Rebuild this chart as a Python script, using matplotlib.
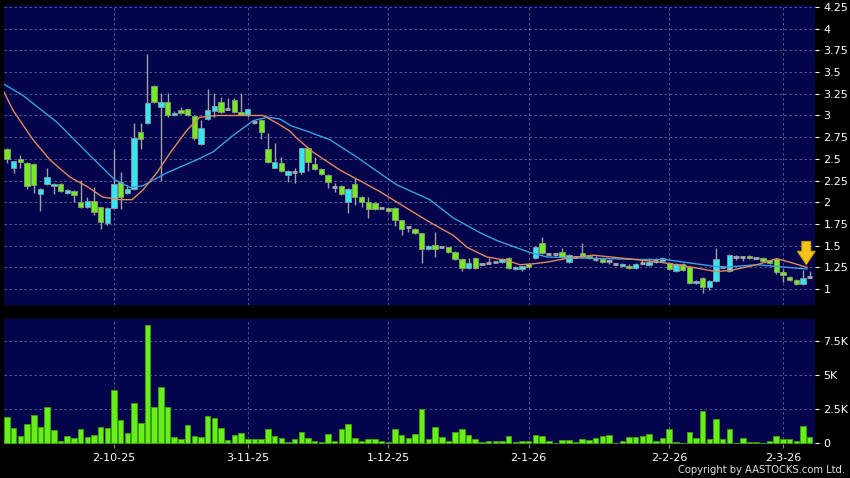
import matplotlib
matplotlib.use("Agg")
import matplotlib.pyplot as plt
import numpy as np

# ---------------------------------------------------------------
# Data
# ---------------------------------------------------------------
opens = [2.61, 2.40, 2.50, 2.45, 2.44, 2.10, 2.21, 2.19, 2.21, 2.11,
         2.13, 2.00, 1.94, 2.01, 1.94, 1.76, 1.93, 2.23, 2.11, 2.15,
         2.81, 2.91, 3.34, 3.10, 3.15, 3.00, 3.06, 3.07, 2.99, 2.67,
         2.96, 3.05, 3.15, 3.08, 3.18, 3.04, 3.00, 2.93, 2.95, 2.61,
         2.40, 2.45, 2.31, 2.35, 2.35, 2.62, 2.44, 2.38, 2.31, 2.17,
         2.19, 2.00, 2.21, 2.06, 2.00, 1.99, 1.93, 1.93, 1.93, 1.79,
         1.71, 1.69, 1.64, 1.46, 1.51, 1.48, 1.48, 1.43, 1.35, 1.24,
         1.36, 1.29, 1.30, 1.31, 1.31, 1.36, 1.23, 1.23, 1.29, 1.36,
         1.53, 1.40, 1.40, 1.43, 1.31, 1.37, 1.41, 1.38, 1.35, 1.35,
         1.32, 1.29, 1.26, 1.26, 1.24, 1.30, 1.28, 1.32, 1.32, 1.30,
         1.21, 1.29, 1.25, 1.07, 1.13, 1.02, 1.09, 1.25, 1.21, 1.37,
         1.37, 1.38, 1.36, 1.36, 1.33, 1.35, 1.20, 1.14, 1.10, 1.06,
         1.14]
highs = [2.63, 2.48, 2.54, 2.46, 2.45, 2.16, 2.39, 2.22, 2.22, 2.15,
         2.14, 2.26, 2.06, 2.18, 1.95, 1.94, 2.61, 2.35, 2.20, 2.91,
         2.91, 3.71, 3.35, 3.26, 3.26, 3.05, 3.10, 3.08, 3.00, 2.95,
         3.31, 3.26, 3.21, 3.20, 3.20, 3.26, 3.08, 2.95, 2.96, 2.80,
         2.68, 2.52, 2.37, 2.39, 2.63, 2.63, 2.52, 2.39, 2.32, 2.22,
         2.20, 2.16, 2.28, 2.07, 2.06, 2.00, 1.94, 1.94, 1.94, 1.80,
         1.72, 1.70, 1.65, 1.51, 1.66, 1.49, 1.49, 1.44, 1.36, 1.36,
         1.37, 1.30, 1.36, 1.32, 1.36, 1.37, 1.26, 1.27, 1.30, 1.50,
         1.60, 1.41, 1.41, 1.47, 1.40, 1.38, 1.53, 1.39, 1.38, 1.36,
         1.35, 1.30, 1.30, 1.29, 1.30, 1.33, 1.36, 1.36, 1.37, 1.31,
         1.30, 1.30, 1.26, 1.10, 1.14, 1.10, 1.47, 1.26, 1.40, 1.39,
         1.38, 1.39, 1.37, 1.37, 1.34, 1.36, 1.23, 1.15, 1.11, 1.22,
         1.21]
lows = [2.45, 2.34, 2.39, 2.15, 2.11, 1.90, 2.20, 2.10, 2.12, 2.10,
        2.00, 1.93, 1.93, 1.85, 1.69, 1.74, 1.92, 1.92, 2.10, 2.14,
        2.61, 2.90, 3.14, 2.25, 2.98, 2.99, 3.02, 2.99, 2.72, 2.66,
        2.95, 2.98, 3.03, 3.06, 3.03, 3.00, 2.98, 2.90, 2.73, 2.45,
        2.39, 2.35, 2.23, 2.22, 2.32, 2.36, 2.37, 2.31, 2.16, 2.12,
        2.08, 1.88, 1.97, 1.94, 1.82, 1.91, 1.92, 1.89, 1.73, 1.62,
        1.66, 1.63, 1.30, 1.45, 1.37, 1.47, 1.42, 1.34, 1.21, 1.23,
        1.23, 1.28, 1.29, 1.30, 1.30, 1.23, 1.22, 1.21, 1.24, 1.35,
        1.40, 1.39, 1.38, 1.36, 1.30, 1.36, 1.36, 1.35, 1.32, 1.30,
        1.29, 1.28, 1.25, 1.23, 1.23, 1.28, 1.27, 1.30, 1.31, 1.22,
        1.20, 1.21, 1.06, 1.06, 0.95, 0.99, 1.08, 1.24, 1.20, 1.33,
        1.32, 1.35, 1.35, 1.31, 1.29, 1.17, 1.08, 1.09, 1.05, 1.05,
        1.13]
closes = [2.50, 2.47, 2.46, 2.19, 2.20, 2.15, 2.29, 2.21, 2.13, 2.14,
          2.08, 1.94, 2.01, 1.89, 1.77, 1.93, 2.21, 2.06, 2.15, 2.74,
          2.73, 3.14, 3.15, 3.15, 3.00, 3.03, 3.03, 3.00, 2.74, 2.85,
          3.06, 3.11, 3.04, 3.08, 3.04, 3.00, 3.07, 2.93, 2.81, 2.46,
          2.46, 2.36, 2.36, 2.35, 2.62, 2.46, 2.38, 2.32, 2.23, 2.17,
          2.09, 2.15, 2.06, 2.00, 1.92, 1.92, 1.93, 1.90, 1.79, 1.69,
          1.71, 1.64, 1.46, 1.50, 1.46, 1.48, 1.43, 1.35, 1.24, 1.30,
          1.24, 1.29, 1.30, 1.31, 1.35, 1.24, 1.25, 1.26, 1.25, 1.48,
          1.41, 1.40, 1.40, 1.37, 1.39, 1.37, 1.37, 1.36, 1.35, 1.31,
          1.32, 1.29, 1.29, 1.24, 1.29, 1.30, 1.31, 1.32, 1.36, 1.23,
          1.29, 1.22, 1.07, 1.09, 1.02, 1.09, 1.35, 1.25, 1.39, 1.37,
          1.37, 1.36, 1.36, 1.32, 1.30, 1.20, 1.16, 1.10, 1.06, 1.13,
          1.14]
# volume in thousands of shares
volumes = [1.89, 1.10, 0.54, 1.42, 2.08, 1.15, 2.62, 0.98, 0.17, 0.49,
           0.32, 1.05, 0.44, 0.61, 1.18, 1.10, 3.87, 1.69, 0.71, 2.94,
           1.50, 8.68, 2.67, 4.12, 2.62, 0.44, 0.27, 1.35, 0.49, 0.42,
           1.99, 1.84, 1.10, 0.20, 0.59, 0.76, 0.27, 0.27, 0.27, 1.03,
           0.49, 0.39, 0.07, 0.29, 0.83, 0.34, 0.17, 0.07, 0.64, 0.15,
           1.03, 1.42, 0.37, 0.15, 0.29, 0.29, 0.12, 0.07, 1.03, 0.59,
           0.39, 0.66, 2.50, 0.29, 1.18, 0.44, 0.17, 0.83, 1.03, 0.61,
           0.25, 0.07, 0.12, 0.17, 0.17, 0.54, 0.07, 0.17, 0.17, 0.56,
           0.49, 0.12, 0.00, 0.22, 0.22, 0.07, 0.29, 0.22, 0.32, 0.49,
           0.61, 0.02, 0.17, 0.42, 0.42, 0.47, 0.66, 0.17, 0.37, 1.03,
           0.07, 0.02, 0.81, 0.37, 2.38, 0.25, 1.76, 0.29, 1.03, 0.00,
           0.34, 0.05, 0.07, 0.00, 0.12, 0.49, 0.29, 0.27, 0.17, 1.27,
           0.42]

# moving averages (sampled along the curves)
ma_short_x = [-0.45, 0.9, 3.9, 6.4, 9.4, 12, 14.3, 16.9, 18.7, 20.3, 22.4,
              24.4, 26.9, 28.8, 31.4, 38.3, 40.4, 42.3, 43.3, 45.7, 49.8,
              53.2, 55.8, 59.8, 63.2, 66.7, 68.8, 71.7, 74.7, 76.7, 78.6,
              80.7, 84.2, 87.6, 92.7, 97.6, 102.5, 106.1, 108.5, 112.1,
              115.1, 117, 119.6]
ma_short_y = [3.27, 3.06, 2.72, 2.49, 2.29, 2.18, 2.06, 2.03, 2.03, 2.14, 2.34,
              2.57, 2.83, 2.98, 3.00, 3.00, 2.91, 2.82, 2.74, 2.58, 2.37,
              2.23, 2.12, 1.93, 1.77, 1.62, 1.48, 1.37, 1.33, 1.28, 1.29,
              1.31, 1.36, 1.39, 1.35, 1.31, 1.25, 1.20, 1.22, 1.28,
              1.35, 1.31, 1.25]
ma_long_x = [-0.45, 2.4, 7.5, 12.4, 16.1, 18.4, 20.3, 23.9, 28.4, 30.8, 33.8,
             36.8, 38.9, 40.8, 42.5, 44.8, 48.3, 52.3, 56.2, 58.3, 63.2,
             66.7, 70.7, 73.2, 78.2, 80.7, 84.2, 89.8, 94.9, 98.4, 102.1,
             107, 112.1, 115.1, 119.6]
ma_long_y = [3.36, 3.23, 2.92, 2.54, 2.26, 2.17, 2.19, 2.34, 2.49, 2.58, 2.77,
             2.94, 2.98, 2.96, 2.88, 2.82, 2.72, 2.52, 2.31, 2.20, 2.03,
             1.82, 1.65, 1.56, 1.42, 1.37, 1.36, 1.35, 1.34, 1.34, 1.30,
             1.25, 1.28, 1.26, 1.23]

date_ticks = [16, 36, 57, 78, 99, 116]
date_labels = ["2-10-25", "3-11-25", "1-12-25", "2-1-26", "2-2-26", "2-3-26"]
price_ticks = [1, 1.25, 1.5, 1.75, 2, 2.25, 2.5, 2.75, 3, 3.25, 3.5, 3.75, 4, 4.25]
vol_ticks = [0, 2.5, 5, 7.5]
vol_labels = ["0", "2.5K", "5K", "7.5K"]

# ---------------------------------------------------------------
# Styling
# ---------------------------------------------------------------
BG = "#000000"
PANEL = "#04044c"
GRID = "#5b6496"
UP = "#33e6f2"
DOWN = "#72ec1c"
FLAT = "#a8a8a8"
WICK = "#a0a0a0"

W, H = 850, 478
fig = plt.figure(figsize=(W / 100, H / 100), dpi=100, facecolor=BG)

ax = fig.add_axes([4 / W, (H - 305) / H, 811 / W, 300 / H], facecolor=PANEL)
axv = fig.add_axes([4 / W, (H - 443.5) / H, 811 / W, 124.5 / H], facecolor=PANEL)

idx = np.arange(len(closes))
o = np.array(opens)
c = np.array(closes)
h = np.array(highs)
l = np.array(lows)

# wicks
ax.vlines(idx, l, h, color=WICK, lw=1.0, zorder=2)

# bodies
up = c > o
down = c < o
flat = c == o
body_w = 0.8
ax.bar(idx[up], (c - o)[up], bottom=o[up], width=body_w, color=UP,
       edgecolor="#8a9aa0", lw=0.6, zorder=3)
ax.bar(idx[down], (o - c)[down], bottom=c[down], width=body_w, color=DOWN,
       edgecolor="#8a9a80", lw=0.6, zorder=3)
ax.hlines(c[flat], idx[flat] - body_w / 2, idx[flat] + body_w / 2,
          color=FLAT, lw=2.0, zorder=3)

# moving averages
ax.plot(ma_long_x, ma_long_y, color="#3b9fe0", lw=1.0, zorder=4)
ax.plot(ma_short_x, ma_short_y, color="#e08a5a", lw=1.0, zorder=4)

# marker arrow above the last session
last = len(closes) - 1
ax.annotate("", xy=(last - 0.5, ma_long_y[-1] + 0.05), xytext=(last - 0.5, 1.55),
            arrowprops=dict(arrowstyle="simple,head_length=0.75,head_width=1.0,tail_width=0.5",
                            fc="#f6c21c", ec="#d89a00", lw=0.6,
                            shrinkA=0, shrinkB=0, mutation_scale=13),
            zorder=6)

# volume
axv.bar(idx, volumes, width=0.82, color="#66f01a", edgecolor="#3f9c10",
        lw=0.7, zorder=3)

# axes ranges
for a in (ax, axv):
    a.set_xlim(-0.45, 120.8)
    a.yaxis.tick_right()
    for s in a.spines.values():
        s.set_visible(False)
    a.tick_params(axis="y", colors="#ffffff", labelcolor="#ffffff",
                  direction="out", length=3, width=0.8, pad=3, labelsize=8)
    a.set_xticks(date_ticks)
    a.grid(True, color=GRID, lw=0.6, ls=(0, (3, 3)), zorder=0)

ax.set_ylim(0.816, 4.273)
ax.set_yticks(price_ticks)
ax.set_yticklabels([f"{v:g}" for v in price_ticks])
ax.tick_params(axis="x", length=0, labelbottom=False)

axv.set_ylim(-0.05, 9.14)
axv.set_yticks(vol_ticks)
axv.set_yticklabels(vol_labels)
axv.set_xticklabels(date_labels)
axv.tick_params(axis="x", colors="#888888", labelcolor="#ffffff",
                direction="out", length=3, width=0.8, pad=4, labelsize=8)

fig.text(0.994, 0.006, "Copyright by AASTOCKS.com Ltd.", ha="right", va="bottom",
         color="#e0e0e0", fontsize=7.2)

fig.savefig("out.png", dpi=100, facecolor=BG)
